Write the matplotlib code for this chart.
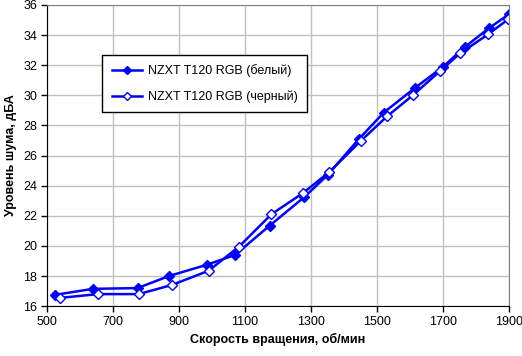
import matplotlib
matplotlib.use('Agg')
import matplotlib.pyplot as plt

plt.rcParams['font.family'] = ['Liberation Sans', 'DejaVu Sans']

# скорость вращения и уровень шума для двух вентиляторов
rpm_white = [525, 640, 775, 870, 985, 1070, 1175, 1280, 1350, 1445, 1520, 1615, 1700, 1765, 1838, 1900]
noise_white = [16.75, 17.15, 17.2, 18.0, 18.75, 19.4, 21.35, 23.25, 24.7, 27.1, 28.85, 30.5, 31.9, 33.2, 34.45, 35.4]

rpm_black = [540, 655, 778, 878, 990, 1082, 1180, 1275, 1355, 1452, 1530, 1608, 1690, 1752, 1836, 1897]
noise_black = [16.55, 16.8, 16.8, 17.4, 18.35, 19.95, 22.1, 23.5, 24.9, 27.0, 28.6, 30.0, 31.6, 32.8, 34.05, 35.05]

label_white = 'NZXT T120 RGB (белый)'
label_black = 'NZXT T120 RGB (черный)'

x_ticks = list(range(500, 2000, 200))
y_ticks = list(range(16, 37, 2))

fig = plt.figure(figsize=(5.22, 3.56), dpi=100)
ax = fig.add_axes([0.0895, 0.140, 0.886, 0.846])

ax.plot(rpm_white, noise_white, color='#0000ff', lw=1.8, marker='D', ms=5.5,
        mfc='#0000ff', mec='#0000ff', label=label_white)
ax.plot(rpm_black, noise_black, color='#0000ff', lw=1.8, marker='D', ms=5.5,
        mfc='white', mec='#0000ff', mew=1.0, label=label_black)

ax.set_xlim(500, 1900)
ax.set_ylim(16, 36)
ax.set_xticks(x_ticks)
ax.set_yticks(y_ticks)
ax.grid(True, color='#c0c0c0', lw=1.0)
ax.set_axisbelow(True)

for s in ['top', 'right']:
    ax.spines[s].set_color('#808080')
for s in ['left', 'bottom']:
    ax.spines[s].set_color('black')
ax.tick_params(direction='out', length=4, width=1, labelsize=9, colors='black', pad=3)

ax.set_xlabel('Скорость вращения, об/мин', fontsize=9, fontweight='bold', labelpad=4)
ax.set_ylabel('Уровень шума, дБА', fontsize=9, fontweight='bold', labelpad=4)

leg = ax.legend(loc='upper left', bbox_to_anchor=(0.120, 0.834), fontsize=9,
                frameon=True, fancybox=False, framealpha=1, edgecolor='black',
                handlelength=2.4, handletextpad=0.5, markerscale=0.75,
                borderpad=0.75, labelspacing=1.05, borderaxespad=0)
leg.get_frame().set_linewidth(1.0)

fig.savefig('out.png', dpi=100)
